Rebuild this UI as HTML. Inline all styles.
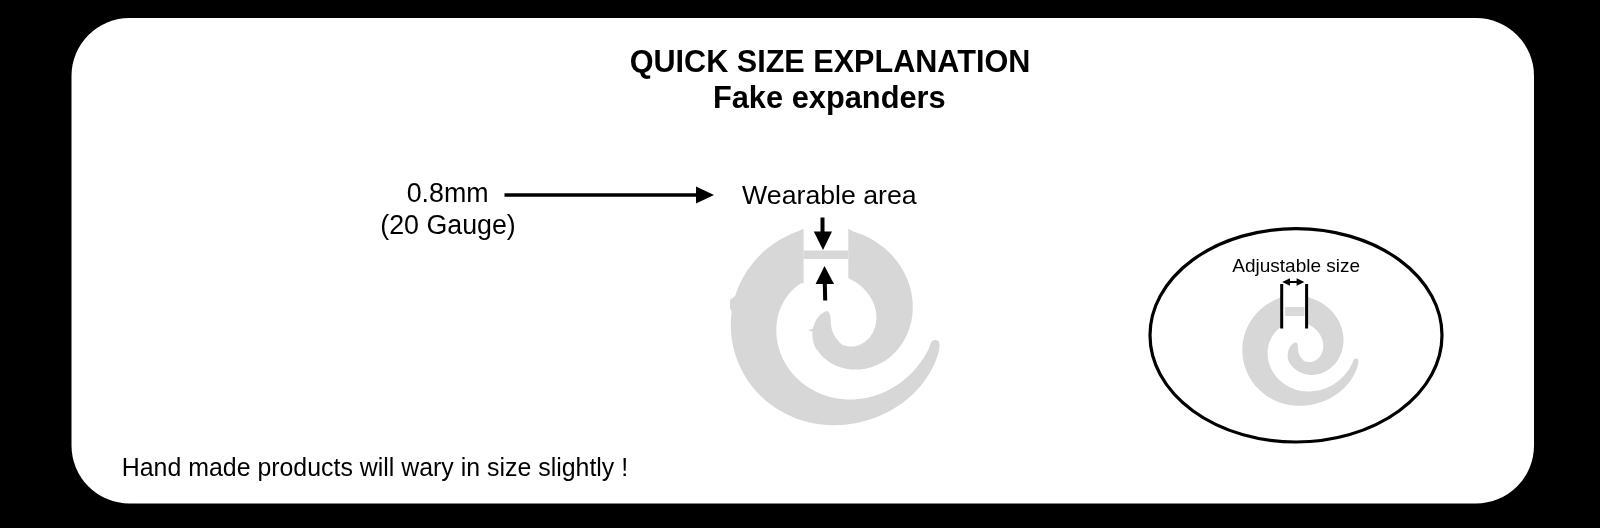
<!DOCTYPE html>
<html><head><meta charset="utf-8">
<style>
html,body{margin:0;padding:0;background:#000;width:1600px;height:528px;overflow:hidden}
svg{position:absolute;left:0;top:0;will-change:transform}
text{font-family:"Liberation Sans",sans-serif;fill:#000}
</style></head><body>
<svg width="1600" height="528" viewBox="0 0 1600 528">
<rect x="0" y="0" width="1600" height="528" fill="#000"/>
<rect x="71.5" y="18" width="1462.5" height="485.5" rx="58" ry="58" fill="#fff"/>
<text x="830" y="71.8" font-size="30.6" font-weight="bold" text-anchor="middle">QUICK SIZE EXPLANATION</text>
<text x="829.3" y="108.2" font-size="30.8" font-weight="bold" text-anchor="middle">Fake expanders</text>
<text x="447.6" y="201.6" font-size="26.8" text-anchor="middle">0.8mm</text>
<text x="448" y="233.6" font-size="26.8" text-anchor="middle">(20 Gauge)</text>
<text x="829.4" y="204.4" font-size="26.7" text-anchor="middle">Wearable area</text>
<text x="1296.2" y="271.5" font-size="19" text-anchor="middle">Adjustable size</text>
<text x="121.8" y="476" font-size="24.9">Hand made products will wary in size slightly !</text>
<line x1="504.5" y1="194.9" x2="700" y2="194.9" stroke="#000" stroke-width="3.5"/>
<polygon points="696,186.5 714,195 696,203.5" fill="#000"/>
<g fill="#d7d7d7">
<path d="M827.1,310.9 L824.8,311.7 L822.8,312.9 L821.0,314.2 L819.3,315.8 L817.8,317.5 L816.5,319.4 L815.4,321.4 L814.5,323.5 L813.7,325.8 L813.1,328.0 L812.7,330.4 L812.5,332.8 L812.4,335.1 L812.5,337.5 L812.8,339.8 L813.3,342.1 L813.9,344.3 L814.8,346.5 L815.8,348.5 L817.1,350.0 L818.3,351.6 L819.5,353.2 L820.9,354.8 L822.3,356.3 L823.8,357.7 L825.5,359.1 L827.1,360.4 L828.9,361.7 L830.8,362.9 L832.7,364.0 L834.7,365.0 L836.8,365.9 L838.9,366.8 L841.1,367.5 L843.3,368.1 L845.7,368.7 L848.0,369.1 L850.4,369.4 L852.9,369.6 L855.3,369.6 L857.8,369.6 L860.4,369.4 L862.9,369.1 L865.5,368.7 L868.0,368.1 L870.6,367.4 L873.1,366.6 L875.6,365.6 L878.1,364.5 L880.6,363.3 L883.1,361.9 L885.5,360.4 L887.8,358.7 L890.1,356.9 L892.3,355.0 L894.4,352.9 L896.5,350.8 L898.5,348.5 L900.3,346.0 L902.1,343.5 L903.8,340.8 L905.3,338.0 L906.7,335.2 L908.0,332.2 L909.1,329.1 L910.1,325.9 L911.0,322.7 L911.7,319.4 L912.2,316.0 L912.6,312.6 L912.7,309.1 L912.8,305.5 L912.6,301.9 L912.2,298.3 L911.7,294.7 L911.0,291.1 L910.1,287.5 L909.0,283.8 L907.7,280.2 L906.2,276.7 L904.5,273.2 L902.6,269.7 L900.5,266.3 L898.2,263.0 L895.7,259.7 L893.1,256.6 L890.2,253.5 L887.2,250.6 L884.0,247.8 L880.6,245.2 L877.1,242.7 L873.4,240.3 L869.6,238.1 L865.6,236.1 L861.4,234.3 L857.1,232.7 L852.8,231.2 L848.3,228.8 L848.3,278.0 L849.9,279.1 L851.6,279.9 L853.1,280.8 L854.6,281.6 L856.1,282.6 L857.5,283.5 L858.9,284.5 L860.2,285.5 L861.4,286.6 L862.6,287.7 L863.8,288.8 L864.8,289.9 L865.9,291.0 L866.9,292.2 L867.8,293.4 L868.7,294.6 L869.6,295.8 L870.3,297.0 L871.1,298.3 L871.8,299.5 L872.4,300.8 L873.0,302.1 L873.6,303.4 L874.1,304.6 L874.5,305.9 L874.9,307.2 L875.3,308.5 L875.6,309.8 L875.8,311.1 L876.0,312.4 L876.2,313.7 L876.3,315.0 L876.4,316.3 L876.4,317.6 L876.4,318.9 L876.3,320.1 L876.2,321.4 L876.0,322.6 L875.8,323.8 L875.5,325.1 L875.2,326.3 L874.9,327.4 L874.5,328.6 L874.1,329.7 L873.6,330.8 L873.1,331.9 L872.5,333.0 L872.0,334.0 L871.3,335.0 L870.7,336.0 L870.0,336.9 L869.2,337.8 L868.4,338.7 L867.6,339.5 L866.8,340.3 L865.9,341.0 L865.0,341.8 L864.1,342.4 L863.2,343.0 L862.2,343.6 L861.2,344.1 L860.2,344.6 L859.2,345.0 L858.2,345.4 L857.2,345.7 L856.1,346.0 L855.1,346.2 L854.0,346.4 L853.0,346.5 L851.9,346.6 L850.9,346.6 L849.8,346.5 L848.8,346.4 L847.8,346.3 L846.8,346.1 L845.8,345.8 L844.9,345.5 L844.0,345.1 L843.0,345.5 L841.4,344.1 L839.8,342.7 L838.4,341.1 L837.0,339.5 L835.8,337.8 L834.7,336.0 L833.7,334.2 L832.8,332.3 L832.1,330.3 L831.6,328.3 L831.2,326.2 L830.9,324.1 L830.8,321.9 L830.7,319.8 L830.6,317.7 L830.3,315.7 L829.7,313.8 L828.8,312.2 L827.1,310.9Z"/>
<path d="M803.6,228.8 L798.8,231.0 L793.9,232.8 L789.0,235.0 L784.1,237.4 L779.4,240.1 L774.8,243.0 L770.3,246.2 L766.0,249.6 L761.8,253.3 L757.9,257.3 L754.1,261.5 L750.6,265.9 L747.3,270.6 L744.2,275.4 L741.5,280.4 L739.0,285.6 L736.8,291.0 L735.0,296.5 L733.4,302.1 L732.3,307.9 L731.4,313.7 L730.9,319.5 L730.8,325.4 L731.0,331.2 L731.5,337.1 L732.4,342.9 L733.7,348.7 L735.2,354.3 L737.2,359.9 L739.4,365.3 L741.9,370.6 L744.8,375.7 L747.9,380.7 L751.3,385.4 L755.0,389.9 L758.9,394.2 L763.1,398.2 L767.4,401.9 L772.0,405.4 L776.7,408.7 L781.6,411.6 L786.6,414.2 L791.7,416.6 L796.9,418.7 L802.2,420.5 L807.5,422.0 L812.9,423.2 L818.3,424.1 L823.7,424.7 L829.1,425.1 L834.4,425.2 L839.8,425.1 L845.1,424.7 L850.3,424.0 L855.5,423.2 L860.6,422.0 L865.7,420.7 L870.6,419.2 L875.5,417.4 L880.3,415.5 L884.9,413.4 L889.5,411.0 L893.9,408.5 L898.3,405.8 L902.4,402.9 L906.5,399.8 L910.4,396.5 L914.1,393.0 L917.6,389.3 L921.0,385.5 L924.1,381.5 L927.0,377.3 L929.7,373.0 L932.2,368.6 L934.4,364.0 L936.3,359.3 L937.9,354.5 L939.3,349.6 L939.6,344.5 L938.5,341.0 L935.5,339.7 L932.0,341.0 L930.1,344.5 L928.9,348.4 L927.1,352.0 L925.0,355.5 L922.9,358.9 L920.6,362.2 L918.2,365.4 L915.7,368.4 L913.1,371.4 L910.4,374.2 L907.6,376.8 L904.7,379.3 L901.7,381.7 L898.6,384.0 L895.5,386.1 L892.2,388.0 L889.0,389.8 L885.6,391.5 L882.2,393.0 L878.8,394.3 L875.3,395.5 L871.8,396.6 L868.2,397.5 L864.7,398.2 L861.1,398.7 L857.5,399.1 L853.9,399.4 L850.3,399.5 L846.7,399.4 L843.2,399.2 L839.6,398.8 L836.1,398.2 L832.6,397.5 L829.2,396.7 L825.9,395.7 L822.6,394.5 L819.3,393.2 L816.1,391.7 L813.0,390.1 L810.0,388.4 L807.1,386.5 L804.3,384.5 L801.6,382.4 L799.0,380.2 L796.5,377.8 L794.2,375.4 L791.9,372.8 L789.8,370.2 L787.9,367.4 L786.0,364.6 L784.4,361.7 L782.8,358.7 L781.5,355.7 L780.2,352.6 L779.2,349.4 L778.3,346.3 L777.6,343.1 L777.0,339.9 L776.6,336.6 L776.4,333.4 L776.3,330.2 L776.4,327.0 L776.6,323.8 L777.1,320.7 L777.7,317.6 L778.4,314.5 L779.3,311.5 L780.4,308.6 L781.6,305.8 L782.9,303.1 L784.4,300.4 L786.0,297.9 L787.7,295.4 L789.6,293.1 L791.6,290.9 L793.6,288.9 L795.8,287.0 L798.0,285.2 L800.4,283.6 L803.6,282.9Z"/>
<rect x="803.6" y="250.5" width="44.7" height="8.5"/>
<polygon points="813.8,328.6 808,330.2 813,331.8"/>
<polygon points="735.5,296 730.2,299.5 729.8,308 731.8,312"/>
</g>
<g fill="#000">
<rect x="820.5" y="217.5" width="4" height="15"/>
<polygon points="813.8,231.5 832,231.5 823,250"/>
<polygon points="815.6,284 834,284 824.5,266"/>
<polygon points="822.8,283 826.8,283 827.2,300.5 823.2,300.5"/>
</g>
<g transform="translate(836,169.4) scale(0.556)" fill="#d7d7d7">
<path d="M827.1,310.9 L824.8,311.7 L822.8,312.9 L821.0,314.2 L819.3,315.8 L817.8,317.5 L816.5,319.4 L815.4,321.4 L814.5,323.5 L813.7,325.8 L813.1,328.0 L812.7,330.4 L812.5,332.8 L812.4,335.1 L812.5,337.5 L812.8,339.8 L813.3,342.1 L813.9,344.3 L814.8,346.5 L815.8,348.5 L817.1,350.0 L818.3,351.6 L819.5,353.2 L820.9,354.8 L822.3,356.3 L823.8,357.7 L825.5,359.1 L827.1,360.4 L828.9,361.7 L830.8,362.9 L832.7,364.0 L834.7,365.0 L836.8,365.9 L838.9,366.8 L841.1,367.5 L843.3,368.1 L845.7,368.7 L848.0,369.1 L850.4,369.4 L852.9,369.6 L855.3,369.6 L857.8,369.6 L860.4,369.4 L862.9,369.1 L865.5,368.7 L868.0,368.1 L870.6,367.4 L873.1,366.6 L875.6,365.6 L878.1,364.5 L880.6,363.3 L883.1,361.9 L885.5,360.4 L887.8,358.7 L890.1,356.9 L892.3,355.0 L894.4,352.9 L896.5,350.8 L898.5,348.5 L900.3,346.0 L902.1,343.5 L903.8,340.8 L905.3,338.0 L906.7,335.2 L908.0,332.2 L909.1,329.1 L910.1,325.9 L911.0,322.7 L911.7,319.4 L912.2,316.0 L912.6,312.6 L912.7,309.1 L912.8,305.5 L912.6,301.9 L912.2,298.3 L911.7,294.7 L911.0,291.1 L910.1,287.5 L909.0,283.8 L907.7,280.2 L906.2,276.7 L904.5,273.2 L902.6,269.7 L900.5,266.3 L898.2,263.0 L895.7,259.7 L893.1,256.6 L890.2,253.5 L887.2,250.6 L884.0,247.8 L880.6,245.2 L877.1,242.7 L873.4,240.3 L869.6,238.1 L865.6,236.1 L861.4,234.3 L857.1,232.7 L852.8,231.2 L848.3,228.8 L848.3,278.0 L849.9,279.1 L851.6,279.9 L853.1,280.8 L854.6,281.6 L856.1,282.6 L857.5,283.5 L858.9,284.5 L860.2,285.5 L861.4,286.6 L862.6,287.7 L863.8,288.8 L864.8,289.9 L865.9,291.0 L866.9,292.2 L867.8,293.4 L868.7,294.6 L869.6,295.8 L870.3,297.0 L871.1,298.3 L871.8,299.5 L872.4,300.8 L873.0,302.1 L873.6,303.4 L874.1,304.6 L874.5,305.9 L874.9,307.2 L875.3,308.5 L875.6,309.8 L875.8,311.1 L876.0,312.4 L876.2,313.7 L876.3,315.0 L876.4,316.3 L876.4,317.6 L876.4,318.9 L876.3,320.1 L876.2,321.4 L876.0,322.6 L875.8,323.8 L875.5,325.1 L875.2,326.3 L874.9,327.4 L874.5,328.6 L874.1,329.7 L873.6,330.8 L873.1,331.9 L872.5,333.0 L872.0,334.0 L871.3,335.0 L870.7,336.0 L870.0,336.9 L869.2,337.8 L868.4,338.7 L867.6,339.5 L866.8,340.3 L865.9,341.0 L865.0,341.8 L864.1,342.4 L863.2,343.0 L862.2,343.6 L861.2,344.1 L860.2,344.6 L859.2,345.0 L858.2,345.4 L857.2,345.7 L856.1,346.0 L855.1,346.2 L854.0,346.4 L853.0,346.5 L851.9,346.6 L850.9,346.6 L849.8,346.5 L848.8,346.4 L847.8,346.3 L846.8,346.1 L845.8,345.8 L844.9,345.5 L844.0,345.1 L843.0,345.5 L841.4,344.1 L839.8,342.7 L838.4,341.1 L837.0,339.5 L835.8,337.8 L834.7,336.0 L833.7,334.2 L832.8,332.3 L832.1,330.3 L831.6,328.3 L831.2,326.2 L830.9,324.1 L830.8,321.9 L830.7,319.8 L830.6,317.7 L830.3,315.7 L829.7,313.8 L828.8,312.2 L827.1,310.9Z"/>
<path d="M803.6,228.8 L798.8,231.0 L793.9,232.8 L789.0,235.0 L784.1,237.4 L779.4,240.1 L774.8,243.0 L770.3,246.2 L766.0,249.6 L761.8,253.3 L757.9,257.3 L754.1,261.5 L750.6,265.9 L747.3,270.6 L744.2,275.4 L741.5,280.4 L739.0,285.6 L736.8,291.0 L735.0,296.5 L733.4,302.1 L732.3,307.9 L731.4,313.7 L730.9,319.5 L730.8,325.4 L731.0,331.2 L731.5,337.1 L732.4,342.9 L733.7,348.7 L735.2,354.3 L737.2,359.9 L739.4,365.3 L741.9,370.6 L744.8,375.7 L747.9,380.7 L751.3,385.4 L755.0,389.9 L758.9,394.2 L763.1,398.2 L767.4,401.9 L772.0,405.4 L776.7,408.7 L781.6,411.6 L786.6,414.2 L791.7,416.6 L796.9,418.7 L802.2,420.5 L807.5,422.0 L812.9,423.2 L818.3,424.1 L823.7,424.7 L829.1,425.1 L834.4,425.2 L839.8,425.1 L845.1,424.7 L850.3,424.0 L855.5,423.2 L860.6,422.0 L865.7,420.7 L870.6,419.2 L875.5,417.4 L880.3,415.5 L884.9,413.4 L889.5,411.0 L893.9,408.5 L898.3,405.8 L902.4,402.9 L906.5,399.8 L910.4,396.5 L914.1,393.0 L917.6,389.3 L921.0,385.5 L924.1,381.5 L927.0,377.3 L929.7,373.0 L932.2,368.6 L934.4,364.0 L936.3,359.3 L937.9,354.5 L939.3,349.6 L939.6,344.5 L938.5,341.0 L935.5,339.7 L932.0,341.0 L930.1,344.5 L928.9,348.4 L927.1,352.0 L925.0,355.5 L922.9,358.9 L920.6,362.2 L918.2,365.4 L915.7,368.4 L913.1,371.4 L910.4,374.2 L907.6,376.8 L904.7,379.3 L901.7,381.7 L898.6,384.0 L895.5,386.1 L892.2,388.0 L889.0,389.8 L885.6,391.5 L882.2,393.0 L878.8,394.3 L875.3,395.5 L871.8,396.6 L868.2,397.5 L864.7,398.2 L861.1,398.7 L857.5,399.1 L853.9,399.4 L850.3,399.5 L846.7,399.4 L843.2,399.2 L839.6,398.8 L836.1,398.2 L832.6,397.5 L829.2,396.7 L825.9,395.7 L822.6,394.5 L819.3,393.2 L816.1,391.7 L813.0,390.1 L810.0,388.4 L807.1,386.5 L804.3,384.5 L801.6,382.4 L799.0,380.2 L796.5,377.8 L794.2,375.4 L791.9,372.8 L789.8,370.2 L787.9,367.4 L786.0,364.6 L784.4,361.7 L782.8,358.7 L781.5,355.7 L780.2,352.6 L779.2,349.4 L778.3,346.3 L777.6,343.1 L777.0,339.9 L776.6,336.6 L776.4,333.4 L776.3,330.2 L776.4,327.0 L776.6,323.8 L777.1,320.7 L777.7,317.6 L778.4,314.5 L779.3,311.5 L780.4,308.6 L781.6,305.8 L782.9,303.1 L784.4,300.4 L786.0,297.9 L787.7,295.4 L789.6,293.1 L791.6,290.9 L793.6,288.9 L795.8,287.0 L798.0,285.2 L800.4,283.6 L803.6,282.9Z"/>
</g>
<rect x="1285" y="307" width="19.5" height="9" fill="#dadada"/>
<g fill="#000">
<rect x="1280.2" y="284" width="3" height="44.5"/>
<rect x="1305.1" y="284" width="3" height="44.5"/>
<line x1="1286" y1="282" x2="1301" y2="282" stroke="#000" stroke-width="2"/>
<polygon points="1282.2,282 1290,278.3 1290,285.8"/>
<polygon points="1304.4,282 1296.6,278.3 1296.6,285.8"/>
</g>
<ellipse cx="1296" cy="335.3" rx="146" ry="106.7" fill="none" stroke="#000" stroke-width="3.2"/>
</svg>
</body></html>
